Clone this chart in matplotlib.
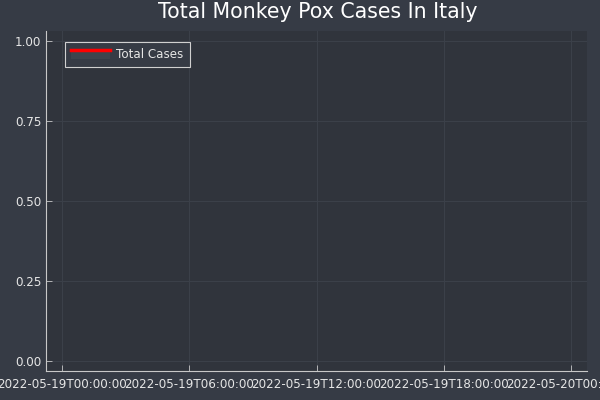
import numpy as np
import pandas as pd
import matplotlib
matplotlib.use("Agg")
import matplotlib.pyplot as plt
import matplotlib.dates as mdates
from matplotlib.lines import Line2D
from matplotlib.patches import Rectangle
from matplotlib.legend_handler import HandlerBase

# Données (un seul point : aucune ligne visible)
dates = pd.to_datetime(["2022-05-19"])
total_cases = [np.nan]
tick_dates = pd.to_datetime(["2022-05-19 00:00", "2022-05-19 06:00", "2022-05-19 12:00",
                             "2022-05-19 18:00", "2022-05-20 00:00"])
tick_labels = ["2022-05-19T00:00:00", "2022-05-19T06:00:00", "2022-05-19T12:00:00",
               "2022-05-19T18:00:00", "2022-05-20T00:00:00"]
y_ticks = [0.0, 0.25, 0.5, 0.75, 1.0]
y_labels = ["0.00", "0.25", "0.50", "0.75", "1.00"]

bg_out = "#363b45"
bg_in = "#30343c"
fg = "#e6e6e6"
grid_c = "#3b4049"


class LineFillHandler(HandlerBase):
    # ligne rouge en haut, bloc gris en dessous (comme la légende de Plots.jl)
    def create_artists(self, legend, orig_handle, xdescent, ydescent, width, height, fontsize, trans):
        rect = Rectangle((-xdescent, -ydescent - height * 0.2), width, height * 1.0,
                         facecolor="#3e444d", edgecolor="none", transform=trans)
        line = Line2D([-xdescent, -xdescent + width], [height * 0.9 - ydescent] * 2,
                      color="red", lw=2.5, transform=trans)
        return [rect, line]


fig = plt.figure(figsize=(6, 4), dpi=100, facecolor=bg_out)
ax = fig.add_axes([46 / 600, 1 - 371 / 400, 541 / 600, 340 / 400])
ax.set_facecolor(bg_in)

line, = ax.plot(dates, total_cases, color="red", lw=2, label="Total Cases")

x0 = mdates.date2num(tick_dates[0])
x1 = mdates.date2num(tick_dates[-1])
pad = (x1 - x0) * 16 / 511
ax.set_xlim(x0 - pad, x1 + pad)
ax.set_ylim(-0.03125, 1.03125)

ax.set_xticks(tick_dates)
ax.set_xticklabels(tick_labels)
ax.set_yticks(y_ticks)
ax.set_yticklabels(y_labels)
ax.tick_params(axis="both", colors="#c8c8c8", labelcolor=fg, labelsize=8.6,
               direction="in", length=4, width=0.6)
ax.tick_params(axis="x", pad=5)

ax.grid(True, color=grid_c, lw=0.8)
ax.set_axisbelow(True)
for s in ["top", "right"]:
    ax.spines[s].set_visible(False)
for s in ["left", "bottom"]:
    ax.spines[s].set_color("#c8c8c8")
    ax.spines[s].set_linewidth(0.8)

fig.text(0.529, 0.971, "Total Monkey Pox Cases In Italy", color="white", fontsize=14.8,
         ha="center", va="center")

leg = ax.legend(handles=[line], handler_map={line: LineFillHandler()}, loc="upper left",
                bbox_to_anchor=(0.024, 0.986), fontsize=8.6, fancybox=False,
                facecolor=bg_out, edgecolor="#d0d0d0", labelcolor=fg,
                handlelength=3.3, borderpad=0.5, handletextpad=0.5)
leg.get_frame().set_linewidth(0.8)
leg.get_frame().set_alpha(1)

plt.savefig("out.png", dpi=100, facecolor=bg_out)
